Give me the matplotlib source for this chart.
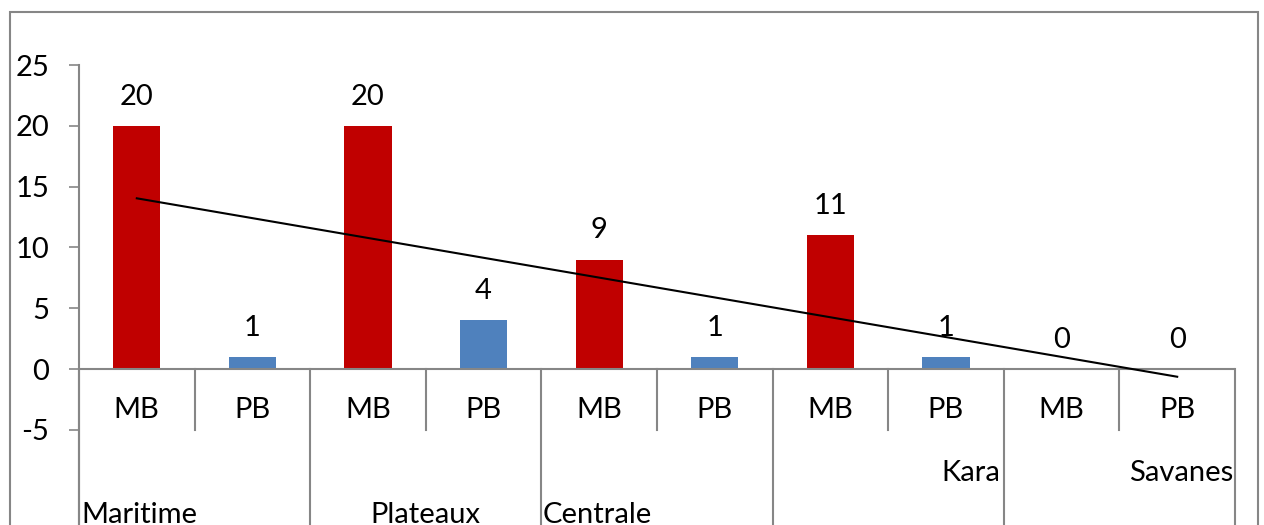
import matplotlib
matplotlib.use("Agg")
import matplotlib.pyplot as plt
import numpy as np
from matplotlib.patches import Rectangle

plt.rcParams['font.family'] = ['Lato', 'DejaVu Sans']
plt.rcParams['axes.unicode_minus'] = False

regions = ["Maritime", "Plateaux", "Centrale", "Kara", "Savanes"]
types = ["MB", "PB"]
values = [20, 1, 20, 4, 9, 1, 11, 1, 0, 0]
bar_colors = {"MB": "#C00000", "PB": "#4F81BD"}

FS = 21
W, H = 1264, 525
fig = plt.figure(figsize=(W / 100, H / 100), dpi=100)

# outer chart frame
fig.patches.append(Rectangle((10 / W, -0.1), (1258 - 10) / W, 1.1 - 12 / H,
                             transform=fig.transFigure, fill=False,
                             edgecolor="#868686", lw=1.5))

ax = fig.add_axes([79 / W, 0, (1235 - 79) / W, 1 - 65 / H])
ymin = -(525 - 369) / ((369 - 65) / 25)
ax.set_xlim(-0.5, 9.5)
ax.set_ylim(ymin, 25)

labels = [t for _ in regions for t in types]
x = np.arange(len(values))
cols = [bar_colors[t] for t in labels]
ax.bar(x, values, width=0.41, color=cols, zorder=2)

# linear trend over all bars
k, b = np.polyfit(x, values, 1)
ax.plot([x[0], x[-1]], [k * x[0] + b, k * x[-1] + b], color="black", lw=1.5, zorder=3)

for xi, v in zip(x, values):
    ax.annotate(str(v), (xi, v), xytext=(0, 21), textcoords="offset points",
                ha="center", va="center", fontsize=FS, color="black")

for s in ax.spines.values():
    s.set_visible(False)
gray = "#868686"
ax.plot([-0.5, -0.5], [ymin, 25], color=gray, lw=1.5, clip_on=False)
ax.axhline(0, color=gray, lw=1.5)
ax.set_yticks(range(-5, 30, 5))
ax.tick_params(axis="y", direction="out", length=7.5, width=1.2, color=gray,
               labelsize=FS, pad=14)
ax.set_xticks([])

# category separators
for i in range(len(values) + 1):
    xs = i - 0.5
    if i % 2 == 0:
        ax.plot([xs, xs], [0, ymin], color=gray, lw=1.5, clip_on=False)
    else:
        ax.plot([xs, xs], [0, -5], color=gray, lw=1.5, clip_on=False)

for xi, lab in zip(x, labels):
    ax.text(xi, -3.37, lab, ha="center", va="center", fontsize=FS)

# region labels
ytop = -12.0
ylow = -8.55
px = lambda p: (p - 79) / ((1235 - 79) / 10) - 0.5
ax.text(px(81), ytop, regions[0], ha="left", va="center", fontsize=FS)
ax.text(2.5, ytop, regions[1], ha="center", va="center", fontsize=FS)
ax.text(px(543), ytop, regions[2], ha="left", va="center", fontsize=FS)
ax.text(px(1000), ylow, regions[3], ha="right", va="center", fontsize=FS)
ax.text(px(1233), ylow, regions[4], ha="right", va="center", fontsize=FS)

fig.savefig("out.png", dpi=100)
